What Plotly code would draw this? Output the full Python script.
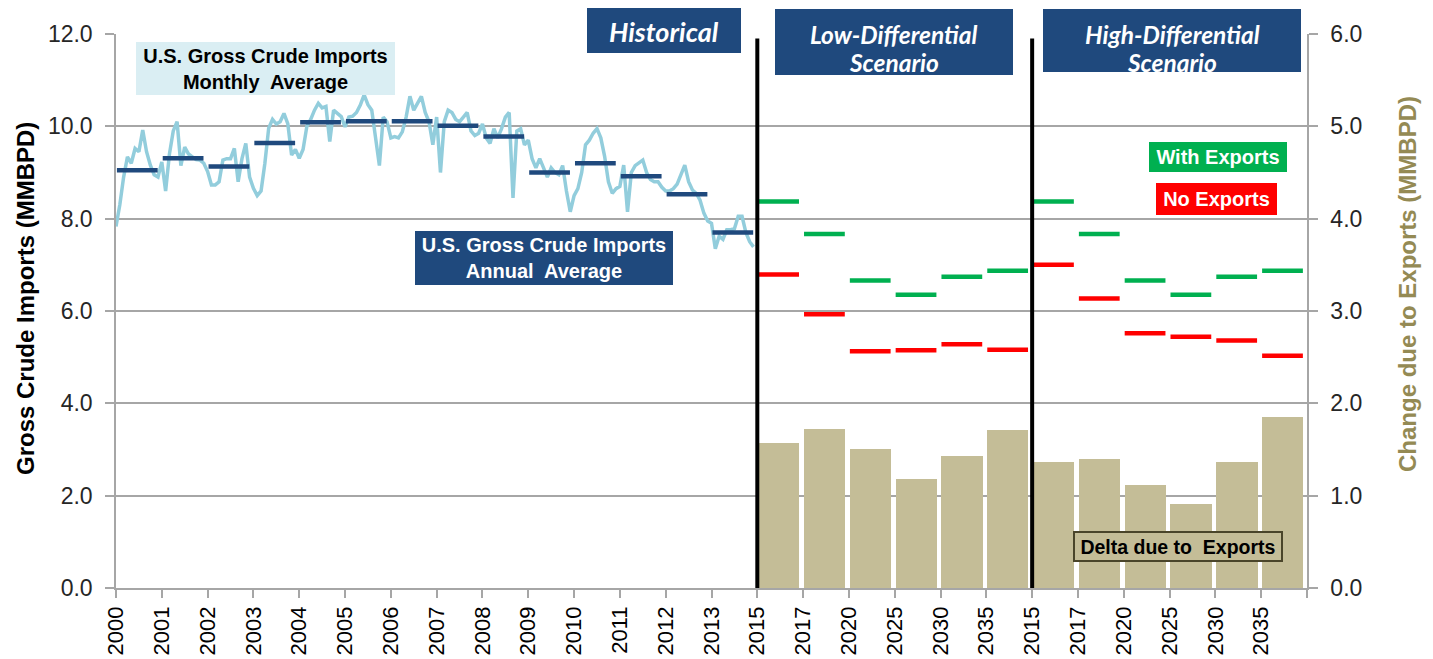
import plotly.graph_objects as go

# ---------------- data ----------------
hist_years = ["2000", "2001", "2002", "2003", "2004", "2005", "2006",
              "2007", "2008", "2009", "2010", "2011", "2012", "2013"]
scenario_years = ["2015", "2017", "2020", "2025", "2030", "2035"]

# monthly U.S. gross crude imports (MMBPD), Jan 2000 .. Dec 2013
monthly_imports = [
    7.83, 8.30, 8.90, 9.34, 9.20, 9.52, 9.45, 9.92, 9.45, 9.16, 8.95, 8.90,      # 2000
    9.23, 8.60, 9.40, 9.90, 10.10, 9.15, 9.55, 9.40, 9.34, 9.28, 9.27, 9.20,     # 2001
    9.02, 8.73, 8.73, 8.80, 9.27, 9.30, 9.30, 9.52, 8.80, 9.30, 9.63, 8.90,      # 2002
    8.66, 8.50, 8.60, 9.20, 9.96, 10.15, 10.05, 10.10, 10.28, 10.06, 9.38, 9.50, # 2003
    9.31, 9.50, 10.00, 10.15, 10.35, 10.50, 10.40, 10.43, 9.67, 10.35, 10.28, 10.21,  # 2004
    9.99, 10.20, 10.22, 10.30, 10.46, 10.68, 10.47, 10.35, 9.75, 9.15, 10.20, 10.10,  # 2005
    9.75, 9.78, 9.75, 9.88, 10.20, 10.65, 10.35, 10.50, 10.65, 10.30, 10.10, 9.60,    # 2006
    10.20, 9.00, 10.10, 10.35, 10.30, 10.15, 10.10, 10.20, 10.30, 9.90, 9.80, 9.85,   # 2007
    10.05, 9.75, 9.63, 9.95, 9.75, 9.95, 10.20, 10.30, 8.45, 9.90, 9.95, 9.60,        # 2008
    9.70, 9.30, 9.10, 9.30, 9.10, 8.90, 9.10, 9.00, 8.95, 9.15, 8.60, 8.15,           # 2009
    8.50, 8.65, 9.00, 9.60, 9.70, 9.85, 9.95, 9.75, 9.35, 8.80, 8.55, 8.65,           # 2010
    8.70, 9.16, 8.15, 9.00, 9.15, 9.22, 9.27, 9.00, 8.85, 8.80, 8.80, 8.68,           # 2011
    8.60, 8.60, 8.65, 8.75, 8.95, 9.16, 8.80, 8.62, 8.55, 8.40, 8.12, 7.95,           # 2012
    7.90, 7.35, 7.62, 7.55, 7.76, 7.76, 7.78, 8.05, 8.05, 7.70, 7.50, 7.39,           # 2013
]

annual_avg = [9.05, 9.31, 9.13, 9.64, 10.09, 10.11, 10.11, 10.01, 9.78, 9.00, 9.20, 8.92, 8.53, 7.70]

low_with_exports = [8.37, 7.67, 6.66, 6.35, 6.74, 6.87]
low_no_exports = [6.79, 5.93, 5.13, 5.15, 5.28, 5.16]
high_with_exports = [8.37, 7.67, 6.66, 6.35, 6.74, 6.87]
high_no_exports = [7.00, 6.27, 5.52, 5.44, 5.36, 5.03]

low_delta = [1.57, 1.72, 1.51, 1.18, 1.43, 1.71]
high_delta = [1.36, 1.40, 1.12, 0.91, 1.37, 1.85]

# ---------------- layout helpers ----------------
PAGE_W, PAGE_H = 1433, 659
OFF = 8                              # default page body margin
W, H = PAGE_W - 2 * OFF, PAGE_H - OFF
L, R, T, B = 116, 1307, 34, 588      # plot area in window pixels
FONT = "Liberation Sans, Arial, sans-serif"
ITAL = "Lato, Open Sans, sans-serif"
NAVY = "#1F497D"

n_hist = len(hist_years)
n_scn = len(scenario_years)
low_start = n_hist
high_start = n_hist + n_scn
n_slots = n_hist + 2 * n_scn


def px(x):
    return (x - L) / (R - L)


def py(y):
    return (B - y) / (B - T)


def segments(start, values, a=0.02, b=0.91):
    xs, ys = [], []
    for i, v in enumerate(values):
        xs += [start + i + a, start + i + b, None]
        ys += [v, v, None]
    return xs, ys


fig = go.Figure()

# monthly line
month_x = [k / 12 for k in range(len(monthly_imports))]
fig.add_trace(go.Scatter(x=month_x, y=monthly_imports, mode="lines",
                         line=dict(color="#92CDDC", width=3.5), showlegend=False))

# annual averages
xs, ys = segments(0, annual_avg)
fig.add_trace(go.Scatter(x=xs, y=ys, mode="lines",
                         line=dict(color=NAVY, width=4.5), showlegend=False))

# delta bars (secondary axis)
for start, vals in [(low_start, low_delta), (high_start, high_delta)]:
    fig.add_trace(go.Bar(x=[start + i + 0.47 for i in range(len(vals))], y=vals,
                         width=0.9, marker=dict(color="#C4BD97", line=dict(width=0)),
                         yaxis="y2", showlegend=False))

# scenario lines
for start, vals, col in [(low_start, low_with_exports, "#00B050"),
                         (low_start, low_no_exports, "#FF0000"),
                         (high_start, high_with_exports, "#00B050"),
                         (high_start, high_no_exports, "#FF0000")]:
    xs, ys = segments(start, vals, 0.02, 0.91)
    fig.add_trace(go.Scatter(x=xs, y=ys, mode="lines",
                             line=dict(color=col, width=4.5), showlegend=False))

# separators
shapes = []
for xv in [low_start, high_start]:
    shapes.append(dict(type="line", xref="x", yref="y", x0=xv, x1=xv, y0=0, y1=11.9,
                       line=dict(color="black", width=4), layer="above"))

annotations = []


def box(text, x0, y0, x1, y1, bg, color, size, family=FONT, border=None, bw=0):
    annotations.append(dict(
        text=text, xref="paper", yref="paper",
        x=px((x0 + x1) / 2), y=py((y0 + y1) / 2),
        xanchor="center", yanchor="middle",
        width=x1 - x0 - 2 * bw, height=y1 - y0 - 2 * bw,
        bgcolor=bg, bordercolor=border if border else bg, borderwidth=bw, borderpad=0,
        font=dict(family=family, size=size, color=color),
        showarrow=False, align="center", valign="middle"))


def rect(x0, y0, x1, y1, fill):
    shapes.append(dict(type="rect", xref="paper", yref="paper",
                       x0=px(x0), x1=px(x1), y0=py(y1), y1=py(y0),
                       fillcolor=fill, line=dict(width=0), layer="above"))


def label(text, xc, yc, size, color="white", family=ITAL):
    annotations.append(dict(text=text, xref="paper", yref="paper",
                            x=px(xc), y=py(yc), xanchor="center", yanchor="middle",
                            showarrow=False,
                            font=dict(family=family, size=size, color=color)))


box("<b>U.S. Gross Crude Imports<br>Monthly  Average</b>", 136, 42, 395, 95,
    "#DAEEF3", "black", 20)
box("<b>U.S. Gross Crude Imports<br>Annual  Average</b>", 415, 231, 673, 285,
    NAVY, "white", 20)

# scenario headers
rect(587, 7, 741, 53, NAVY)
label("<b><i>Historical</i></b>", 664, 32, 27)
rect(775, 9, 1013, 75, NAVY)
label("<b><i>Low-Differential</i></b>", 894, 34, 24.5)
label("<b><i>Scenario</i></b>", 894, 62, 24.5)
rect(1043, 9, 1301, 72, NAVY)
label("<b><i>High-Differential</i></b>", 1172, 34, 24.5)
label("<b><i>Scenario</i></b>", 1172, 63, 24.5)

box("<b>With Exports</b>", 1149, 142, 1287, 172, "#00B050", "white", 20)
box("<b>No Exports</b>", 1156, 183, 1277, 215, "#FF0000", "white", 20)
box("<b>Delta due to  Exports</b>", 1073, 531, 1283, 562, "#C4BD97", "black", 19.5,
    border="#4A452A", bw=2)

# axis titles
annotations.append(dict(text="<b>Gross Crude Imports (MMBPD)</b>", xref="paper", yref="paper",
                        x=px(25), y=py(299), xanchor="center", yanchor="middle",
                        textangle=-90, showarrow=False,
                        font=dict(family=FONT, size=24, color="black")))
annotations.append(dict(text="<b>Change due to Exports (MMBPD)</b>", xref="paper", yref="paper",
                        x=px(1407), y=py(284), xanchor="center", yanchor="middle",
                        textangle=-90, showarrow=False,
                        font=dict(family=FONT, size=24, color="#948A54")))

tick_text = hist_years + scenario_years + scenario_years + [""]
GRID = "#A6A6A6"

fig.update_layout(
    width=W, height=H,
    margin=dict(l=L - OFF, r=W - (R - OFF), t=T - OFF, b=H - (B - OFF), pad=0,
                autoexpand=False),
    paper_bgcolor="white", plot_bgcolor="white",
    showlegend=False,
    shapes=shapes, annotations=annotations,
    bargap=0,
    xaxis=dict(range=[0, n_slots], tickmode="array", tickvals=list(range(n_slots + 1)),
               ticktext=tick_text, tickangle=-90, showgrid=False, zeroline=False,
               showline=True, linecolor=GRID, linewidth=1.5, automargin=False,
               ticks="outside", ticklen=8, tickcolor=GRID, tickwidth=1.5,
               tickfont=dict(family=FONT, size=22, color="black")),
    yaxis=dict(range=[0, 12], tickmode="array", tickvals=[0, 2, 4, 6, 8, 10, 12],
               tickformat=".1f", showgrid=True, gridcolor=GRID, gridwidth=1.5,
               zeroline=False, showline=True, linecolor=GRID, linewidth=1.5,
               ticks="outside", ticklen=9, tickcolor=GRID, tickwidth=1.5,
               ticklabelstandoff=8, automargin=False,
               tickfont=dict(family=FONT, size=23, color="#262626")),
    yaxis2=dict(range=[0, 6], overlaying="y", side="right", tickmode="array",
                tickvals=[0, 1, 2, 3, 4, 5, 6], tickformat=".1f", showgrid=False,
                zeroline=False, showline=True, linecolor=GRID, linewidth=1.5,
                ticks="outside", ticklen=9, tickcolor=GRID, tickwidth=1.5,
                ticklabelstandoff=8, automargin=False,
                tickfont=dict(family=FONT, size=23, color="#262626")),
)

fig.write_html("out.html")
